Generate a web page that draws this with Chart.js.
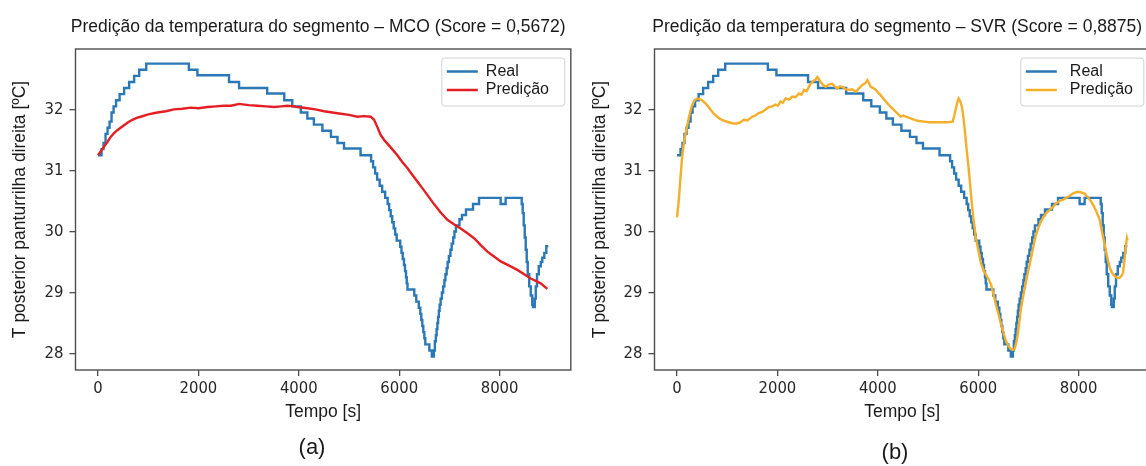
<!DOCTYPE html>
<html>
<head>
<meta charset="utf-8">
<script src="https://cdn.jsdelivr.net/npm/chart.js@4.4.0/dist/chart.umd.min.js"></script>
<style>
  html, body { margin: 0; padding: 0; background: #fff; overflow: hidden; }
  .panel { position: absolute; top: 0; width: 580px; height: 466px; }
  #panelA { left: 0; }
  #panelB { left: 580px; }
</style>
</head>
<body>
<div class="panel" id="panelA"><canvas id="chartA" width="580" height="466"></canvas></div>
<div class="panel" id="panelB"><canvas id="chartB" width="580" height="466"></canvas></div>
<script>
// Temperatura real do segmento (sensor, degraus) e as duas predições (MCO e SVR)

const X_TICKS = [0, 2000, 4000, 6000, 8000];
const Y_TICKS = [28, 29, 30, 31, 32];
const X_MIN = -448.5, X_MAX = 9418.5;
const Y_MIN = 27.73, Y_MAX = 32.99;

// leitura real: instante [s] em que cada patamar começa
const REAL_T = [0, 70, 110, 150, 190, 230, 270, 310, 360, 430, 520, 620, 720, 820, 960,
  1810, 1980, 2610, 2810, 3370, 3710, 3870, 4040, 4170, 4300, 4470, 4640, 4770, 4900, 5230,
  5440, 5480, 5520, 5560, 5610, 5660, 5720, 5770, 5800, 5830, 5860, 5890, 5920, 5950, 6020,
  6045, 6070, 6095, 6115, 6135, 6150, 6165, 6300, 6340, 6390, 6420, 6440, 6460, 6480, 6500,
  6520, 6600, 6650, 6690, 6710, 6730, 6745, 6760, 6775, 6790, 6805, 6825, 6850, 6875, 6900,
  6920, 6945, 6965, 6990, 7020, 7045, 7075, 7100, 7130, 7200, 7250, 7330, 7470, 7590, 8020,
  8120, 8440, 8460, 8480, 8500, 8520, 8540, 8560, 8590, 8620, 8650, 8665, 8700, 8720, 8745,
  8780, 8820, 8850, 8890, 8930, 8970];
const REAL_V = [31.25, 31.35, 31.45, 31.6, 31.7, 31.8, 31.95, 32.05, 32.15, 32.25, 32.35, 32.45, 32.55, 32.65, 32.75,
  32.65, 32.56, 32.45, 32.35, 32.26, 32.15, 32.05, 31.95, 31.85, 31.75, 31.65, 31.55, 31.45, 31.36, 31.25,
  31.15, 31.05, 30.95, 30.85, 30.75, 30.65, 30.55, 30.45, 30.35, 30.25, 30.15, 30.05, 29.95, 29.85, 29.75,
  29.65, 29.55, 29.45, 29.35, 29.25, 29.15, 29.05, 28.95, 28.85, 28.75, 28.65, 28.55, 28.45, 28.35, 28.25,
  28.15, 28.05, 27.95, 28.05, 28.2, 28.3, 28.4, 28.5, 28.6, 28.7, 28.8, 28.9, 29.0, 29.1, 29.2,
  29.3, 29.4, 29.5, 29.6, 29.7, 29.8, 29.9, 30.0, 30.1, 30.2, 30.27, 30.36, 30.45, 30.55, 30.45,
  30.55, 30.45, 30.3, 30.1, 29.9, 29.7, 29.5, 29.3, 29.1, 28.95, 28.8, 28.76, 28.9, 29.1, 29.3,
  29.43, 29.5, 29.57, 29.65, 29.76, 29.76];

// predição MCO
const MCO_T = [0, 60, 120, 190, 252, 320, 385, 450, 518, 600, 684, 770, 850, 1000, 1182, 1350,
  1514, 1680, 1846, 2000, 2178, 2350, 2510, 2650, 2809, 3000, 3174, 3350, 3506, 3650, 3772,
  3900, 3971, 4170, 4330, 4502, 4670, 4834, 5000, 5166, 5300, 5432, 5498, 5565, 5631, 5700,
  5764, 5860, 5963, 6060, 6162, 6260, 6361, 6460, 6560, 6700, 6826, 6959, 7090, 7224, 7360,
  7490, 7620, 7756, 7890, 8021, 8190, 8353, 8490, 8619, 8720, 8818, 8890, 8951];
const MCO_V = [31.25, 31.32, 31.39, 31.47, 31.55, 31.61, 31.66, 31.7, 31.74, 31.79, 31.83, 31.86, 31.88, 31.92, 31.95, 31.97,
  32.0, 32.01, 32.03, 32.02, 32.04, 32.05, 32.06, 32.06, 32.09, 32.07, 32.06, 32.05, 32.04, 32.05, 32.06,
  32.05, 32.04, 32.02, 32.0, 31.97, 31.95, 31.93, 31.91, 31.88, 31.89, 31.88, 31.83, 31.71, 31.58, 31.5,
  31.44, 31.35, 31.25, 31.14, 31.04, 30.93, 30.82, 30.71, 30.6, 30.44, 30.31, 30.19, 30.12, 30.05, 29.97,
  29.89, 29.78, 29.67, 29.59, 29.51, 29.44, 29.37, 29.3, 29.23, 29.19, 29.15, 29.1, 29.06];

// predição SVR
const SVR_T = [0, 33, 66, 100, 133, 166, 200, 233, 266, 299, 350, 399, 450, 499, 550, 599, 665, 732,
  800, 865, 950, 1031, 1115, 1198, 1265, 1331, 1400, 1497, 1560, 1630, 1697, 1765, 1830, 1900,
  1963, 2010, 2063, 2110, 2163, 2230, 2296, 2360, 2429, 2480, 2529, 2580, 2628, 2660, 2695,
  2750, 2795, 2830, 2861, 2910, 2961, 3030, 3094, 3150, 3194, 3245, 3294, 3360, 3427, 3490,
  3560, 3630, 3693, 3750, 3793, 3830, 3859, 3910, 3959, 4010, 4059, 4110, 4159, 4210, 4258,
  4310, 4358, 4410, 4458, 4510, 4558, 4625, 4691, 4760, 4824, 4920, 5024, 5150, 5290, 5400,
  5490, 5525, 5556, 5585, 5610, 5640, 5676, 5710, 5742, 5775, 5809, 5842, 5875, 5902, 5930,
  5955, 6005, 6055, 6105, 6155, 6205, 6255, 6305, 6355, 6405, 6454, 6505, 6554, 6604, 6654,
  6690, 6721, 6755, 6787, 6820, 6854, 6900, 6953, 7003, 7053, 7103, 7153, 7203, 7253, 7303,
  7353, 7420, 7486, 7550, 7619, 7690, 7752, 7820, 7885, 7940, 7985, 8050, 8118, 8185, 8251,
  8300, 8351, 8417, 8470, 8517, 8550, 8583, 8617, 8650, 8683, 8717, 8767, 8817, 8850, 8884,
  8910, 8937, 8963, 8975];
const SVR_V = [30.23, 30.49, 30.85, 31.2, 31.42, 31.58, 31.72, 31.85, 31.97, 32.07, 32.15, 32.18, 32.17, 32.15, 32.11, 32.07, 32.0, 31.93,
  31.88, 31.84, 31.81, 31.79, 31.77, 31.77, 31.79, 31.83, 31.82, 31.88, 31.9, 31.94, 31.96, 32.0, 32.04, 32.05,
  32.08, 32.06, 32.13, 32.11, 32.18, 32.16, 32.21, 32.2, 32.26, 32.24, 32.32, 32.3, 32.37, 32.42, 32.45,
  32.48, 32.53, 32.49, 32.45, 32.4, 32.37, 32.41, 32.42, 32.37, 32.34, 32.38, 32.37, 32.33, 32.32, 32.33,
  32.29, 32.35, 32.4, 32.43, 32.48, 32.42, 32.37, 32.35, 32.32, 32.27, 32.23, 32.18, 32.13, 32.08, 32.04,
  32.0, 31.96, 31.92, 31.88, 31.9, 31.88, 31.86, 31.84, 31.82, 31.81, 31.8, 31.79, 31.79, 31.79, 31.79,
  31.8, 31.9, 32.02, 32.12, 32.18, 32.14, 32.04, 31.84, 31.58, 31.3, 31.04, 30.74, 30.44, 30.22, 30.05,
  29.89, 29.68, 29.48, 29.37, 29.29, 29.22, 29.13, 28.97, 28.8, 28.64, 28.48, 28.33, 28.2, 28.12, 28.07,
  28.06, 28.07, 28.17, 28.31, 28.52, 28.75, 28.96, 29.18, 29.38, 29.57, 29.77, 29.95, 30.07, 30.17, 30.24,
  30.3, 30.35, 30.4, 30.46, 30.5, 30.52, 30.55, 30.58, 30.62, 30.64, 30.65, 30.64, 30.62, 30.56, 30.49,
  30.42, 30.33, 30.2, 29.98, 29.8, 29.66, 29.53, 29.42, 29.35, 29.3, 29.27, 29.24, 29.24, 29.27, 29.32,
  29.5, 29.73, 29.89, 29.85];

const BLUE = '#2a78b5';
const RED = '#e41e23';
const ORANGE = '#f4ae2a';
const FRAME = '#4d4d4d';
const SANS = "'Liberation Sans', Arial, sans-serif";
const TICK_FONT = { family: "'DejaVu Sans Condensed', sans-serif", size: 16.5 };

function points(ts, vs) {
  return ts.map((t, i) => ({ x: t, y: vs[i] }));
}

// título, moldura, legenda e legenda (a)/(b) de cada painel
const panelText = {
  id: 'panelText',
  afterDraw(chart, args, o) {
    const { ctx, chartArea: a } = chart;
    ctx.save();

    ctx.strokeStyle = FRAME;
    ctx.lineWidth = 1.4;
    ctx.strokeRect(a.left, a.top, a.right - a.left, a.bottom - a.top);

    ctx.fillStyle = '#1a1a1a';
    ctx.textAlign = 'center';
    ctx.textBaseline = 'alphabetic';
    ctx.font = '17.5px ' + SANS;
    ctx.fillText(o.title, (a.left + a.right) / 2 - 5, 31.5);
    ctx.font = '22px ' + SANS;
    ctx.fillText(o.caption, o.captionX, o.captionY);

    const bw = 123, bh = 48;
    const bx = a.right - 6 - bw, by = a.top + 9;
    ctx.beginPath();
    ctx.roundRect(bx, by, bw, bh, 3);
    ctx.fillStyle = '#fff';
    ctx.fill();
    ctx.strokeStyle = '#d0d0d0';
    ctx.lineWidth = 1;
    ctx.stroke();

    ctx.font = '16px ' + SANS;
    ctx.textAlign = 'left';
    ctx.textBaseline = 'middle';
    chart.data.datasets.forEach((ds, i) => {
      const y = by + 13.5 + i * 18.5;
      ctx.strokeStyle = ds.borderColor;
      ctx.lineWidth = 2.5;
      ctx.beginPath();
      ctx.moveTo(bx + 5, y);
      ctx.lineTo(bx + 36, y);
      ctx.stroke();
      ctx.fillStyle = '#1a1a1a';
      ctx.fillText(ds.label, bx + o.textGap, y);
    });
    ctx.restore();
  }
};

function makeChart(canvasId, predT, predV, predColor, o) {
  const plotW = (X_MAX - X_MIN) * 0.0502;
  const grid = { drawOnChartArea: false, drawTicks: true, tickLength: 6, color: FRAME, lineWidth: 1.3 };
  return new Chart(document.getElementById(canvasId), {
    type: 'line',
    data: {
      datasets: [
        { label: 'Real', data: points(REAL_T, REAL_V), borderColor: BLUE, borderWidth: 2.4,
          pointRadius: 0, stepped: true, order: 1 },
        { label: 'Predição', data: points(predT, predV), borderColor: predColor, borderWidth: 2.4,
          pointRadius: 0, tension: 0, order: 0 }
      ]
    },
    options: {
      responsive: false,
      animation: false,
      devicePixelRatio: 1,
      layout: { padding: { left: 0, top: 49, right: 580 - o.axisW - plotW, bottom: 38 } },
      plugins: { legend: { display: false }, tooltip: { enabled: false }, panelText: o },
      scales: {
        x: {
          type: 'linear', min: X_MIN, max: X_MAX,
          afterBuildTicks: s => { s.ticks = X_TICKS.map(v => ({ value: v })); },
          afterFit: s => { s.height = 58; },
          ticks: { font: TICK_FONT, color: '#262626', padding: 3, maxRotation: 0, callback: v => String(v) },
          grid: grid,
          border: { display: false },
          title: { display: true, text: 'Tempo [s]', font: { family: SANS, size: 17.5 }, color: '#1a1a1a',
                   padding: { top: 0, bottom: 5 } }
        },
        y: {
          type: 'linear', min: Y_MIN, max: Y_MAX,
          afterBuildTicks: s => { s.ticks = Y_TICKS.map(v => ({ value: v })); },
          afterFit: s => { s.width = o.axisW; },
          ticks: { font: TICK_FONT, color: '#262626', padding: 6, callback: v => String(v) },
          grid: grid,
          border: { display: false },
          title: { display: true, text: 'T posterior panturrilha direita [ºC]', font: { family: SANS, size: 17.5 },
                   color: '#1a1a1a', padding: { top: 10, bottom: 0 } }
        }
      }
    },
    plugins: [panelText]
  });
}

makeChart('chartA', MCO_T, MCO_V, RED, {
  axisW: 75.5, textGap: 44,
  title: 'Predição da temperatura do segmento – MCO (Score = 0,5672)',
  caption: '(a)', captionX: 312, captionY: 453.5
});
makeChart('chartB', SVR_T, SVR_V, ORANGE, {
  axisW: 74.5, textGap: 49,
  title: 'Predição da temperatura do segmento – SVR (Score = 0,8875)',
  caption: '(b)', captionX: 315, captionY: 459
});
</script>
</body>
</html>
